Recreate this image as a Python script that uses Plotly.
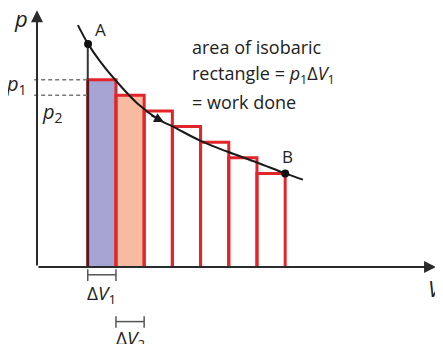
import plotly.graph_objects as go

# ---- data (arbitrary units) ----
V_edges = [1.8, 2.8, 3.8, 4.8, 5.8, 6.8, 7.8, 8.8]
p_steps = [12, 11, 10, 9, 8, 7, 6]
V_curve = [1.45, 1.81, 2.23, 2.77, 3.55, 4.36, 4.82, 5.78, 6.74, 7.8, 8.8, 9.43]
p_curve = [15.5, 14.3, 13.2, 12.0, 10.5, 9.4, 9.0, 8.1, 7.4, 6.7, 6.0, 5.6]
V_A, p_A = 1.81, 14.3
V_B, p_B = 8.8, 6.0
fills = ["#a6a4d3", "#f8bba1"]

RED = "#e2242b"
AX = "#2b2b2b"
FONT = "Open Sans"

fig = go.Figure()

# filled first two rectangles
for i, c in enumerate(fills):
    x0, x1, h = V_edges[i], V_edges[i + 1], p_steps[i]
    fig.add_trace(go.Scatter(x=[x0, x0, x1, x1, x0], y=[0, h, h, 0, 0], mode="lines",
                             fill="toself", fillcolor=c, line=dict(width=0),
                             hoverinfo="skip", showlegend=False))

# rectangle outlines
for i, h in enumerate(p_steps):
    x0, x1 = V_edges[i], V_edges[i + 1]
    fig.add_trace(go.Scatter(x=[x0, x0, x1, x1], y=[0, h, h, 0], mode="lines",
                             line=dict(color=RED, width=3), hoverinfo="skip", showlegend=False))

# dark left edge of first rectangle and line up to A
fig.add_trace(go.Scatter(x=[V_edges[0], V_edges[0]], y=[0, p_steps[0]], mode="lines",
                         line=dict(color="#4a1c22", width=2.5), hoverinfo="skip", showlegend=False))
fig.add_trace(go.Scatter(x=[V_edges[0], V_edges[0]], y=[p_steps[0], p_A], mode="lines",
                         line=dict(color="#333333", width=2), hoverinfo="skip", showlegend=False))

# dashed p1, p2 guides
for h in p_steps[:2]:
    fig.add_trace(go.Scatter(x=[-0.1, V_edges[0]], y=[h, h], mode="lines",
                             line=dict(color="#777777", width=1.5, dash="4px,3px"),
                             hoverinfo="skip", showlegend=False))

# curve
fig.add_trace(go.Scatter(x=V_curve, y=p_curve, mode="lines", line=dict(color="#1a1a1a", width=2, shape="spline"),
                         hoverinfo="skip", showlegend=False))
fig.add_trace(go.Scatter(x=[V_A, V_B], y=[p_A, p_B], mode="markers", marker=dict(color="#111111", size=8),
                         hoverinfo="skip", showlegend=False))

# delta V brackets
for k, yb in enumerate([-0.5, -3.5]):
    x0, x1 = V_edges[k], V_edges[k + 1]
    fig.add_trace(go.Scatter(x=[x0, x0, None, x0, x1, None, x1, x1],
                             y=[yb + 0.35, yb - 0.4, None, yb, yb, None, yb + 0.35, yb - 0.4],
                             mode="lines", line=dict(color="#555555", width=1.5),
                             hoverinfo="skip", showlegend=False))

# axes arrows
arrow = dict(xref="x", yref="y", axref="x", ayref="y", showarrow=True, arrowhead=2,
             arrowsize=1.2, arrowwidth=2, arrowcolor=AX, text="")
fig.add_annotation(x=0, y=16.45, ax=0, ay=0, **arrow)
fig.add_annotation(x=14.15, y=0, ax=0, ay=0, **arrow)
# direction arrow on curve
fig.add_annotation(x=4.5, y=9.3, ax=4.0, ay=9.75, xref="x", yref="y", axref="x", ayref="y",
                   showarrow=True, arrowhead=2, arrowsize=1.3, arrowwidth=1.5, arrowcolor="#1a1a1a", text="")

def label(x, y, t, size=19, xanchor="center"):
    fig.add_annotation(x=x, y=y, xref="x", yref="y", text=t, showarrow=False,
                       xanchor=xanchor, yanchor="middle",
                       font=dict(family=FONT, size=size, color="#222222"))

label(-0.55, 15.95, "<i>p</i>", 22)
label(14.12, -1.35, "<i>V</i>", 22)
label(2.25, 15.2, "A", 17)
label(8.9, 7.1, "B", 17)
label(-0.72, 11.7, "<i>p</i><sub>1</sub>", 20)
label(0.55, 9.9, "<i>p</i><sub>2</sub>", 20)
label(2.3, -1.75, "Δ<i>V</i><sub>1</sub>", 19)
label(3.3, -4.6, "Δ<i>V</i><sub>2</sub>", 19)

label(5.42, 14.1, "area of isobaric", 18, "left")
label(5.42, 12.35, "rectangle = <i>p</i><sub>1</sub>Δ<i>V</i><sub>1</sub>", 18, "left")
label(5.42, 10.6, "= work done", 18, "left")

# page body has an 8px margin: ranges are set so marks land where the reference has them
fig.update_layout(width=443, height=344, margin=dict(l=0, r=0, t=0, b=0),
                  plot_bgcolor="white", paper_bgcolor="white",
                  xaxis=dict(visible=False, range=[-1.028, 14.68], fixedrange=True),
                  yaxis=dict(visible=False, range=[-5.449, 16.60], fixedrange=True))

fig.write_html("out.html")
